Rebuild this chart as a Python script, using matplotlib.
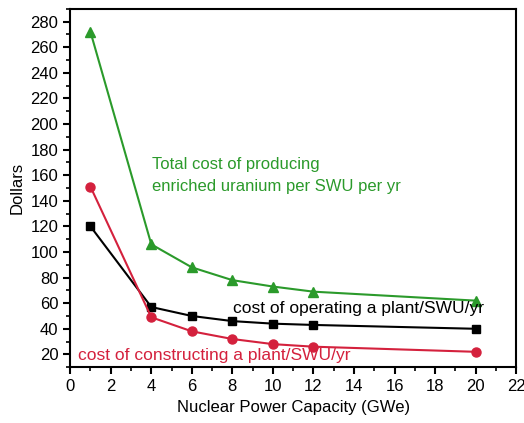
import numpy as np
import matplotlib.pyplot as plt
from matplotlib.ticker import MultipleLocator

plt.rcParams['font.family'] = ['Liberation Sans', 'DejaVu Sans']

# capacity (GWe) and cost curves (dollars)
capacity = [1, 4, 6, 8, 10, 12, 20]
total_cost = [272, 106, 88, 78, 73, 69, 62]
operating_cost = [120, 57, 50, 46, 44, 43, 40]
construct_cost = [151, 49, 38, 32, 28, 26, 22]

Green = '#2b9a2b'
Red = '#d4213d'

fig = plt.figure(figsize=(5.24, 4.23), dpi=100)
ax = fig.add_axes([0.134, 0.132, 0.851, 0.847])

ax.plot(capacity, total_cost, color=Green, marker='^', markersize=7, lw=1.5)
ax.plot(capacity, operating_cost, color='black', marker='s', markersize=6, lw=1.5)
ax.plot(capacity, construct_cost, color=Red, marker='o', markersize=6.5, lw=1.5)

ax.text(4.05, 168, 'Total cost of producing', color=Green, fontsize=12, va='center')
ax.text(4.05, 151, 'enriched uranium per SWU per yr', color=Green, fontsize=12, va='center')
ax.text(8.05, 56, 'cost of operating a plant/SWU/yr', color='black', fontsize=12.5, va='center')
ax.text(0.4, 19, 'cost of constructing a plant/SWU/yr', color=Red, fontsize=12.5, va='center')

ax.set_xlim(0, 22)
ax.set_ylim(10, 290)
ax.xaxis.set_major_locator(MultipleLocator(2))
ax.xaxis.set_minor_locator(MultipleLocator(1))
ax.yaxis.set_major_locator(MultipleLocator(20))
ax.yaxis.set_minor_locator(MultipleLocator(10))
ax.set_yticks(np.arange(20, 281, 20))
ax.tick_params(which='major', direction='out', length=5, width=1.5, labelsize=12)
ax.tick_params(which='minor', direction='out', length=3, width=1.2)
for s in ax.spines.values():
    s.set_linewidth(1.5)

ax.set_xlabel('Nuclear Power Capacity (GWe)', fontsize=12)
ax.set_ylabel('Dollars', fontsize=12)

plt.savefig('out.png', dpi=100)
